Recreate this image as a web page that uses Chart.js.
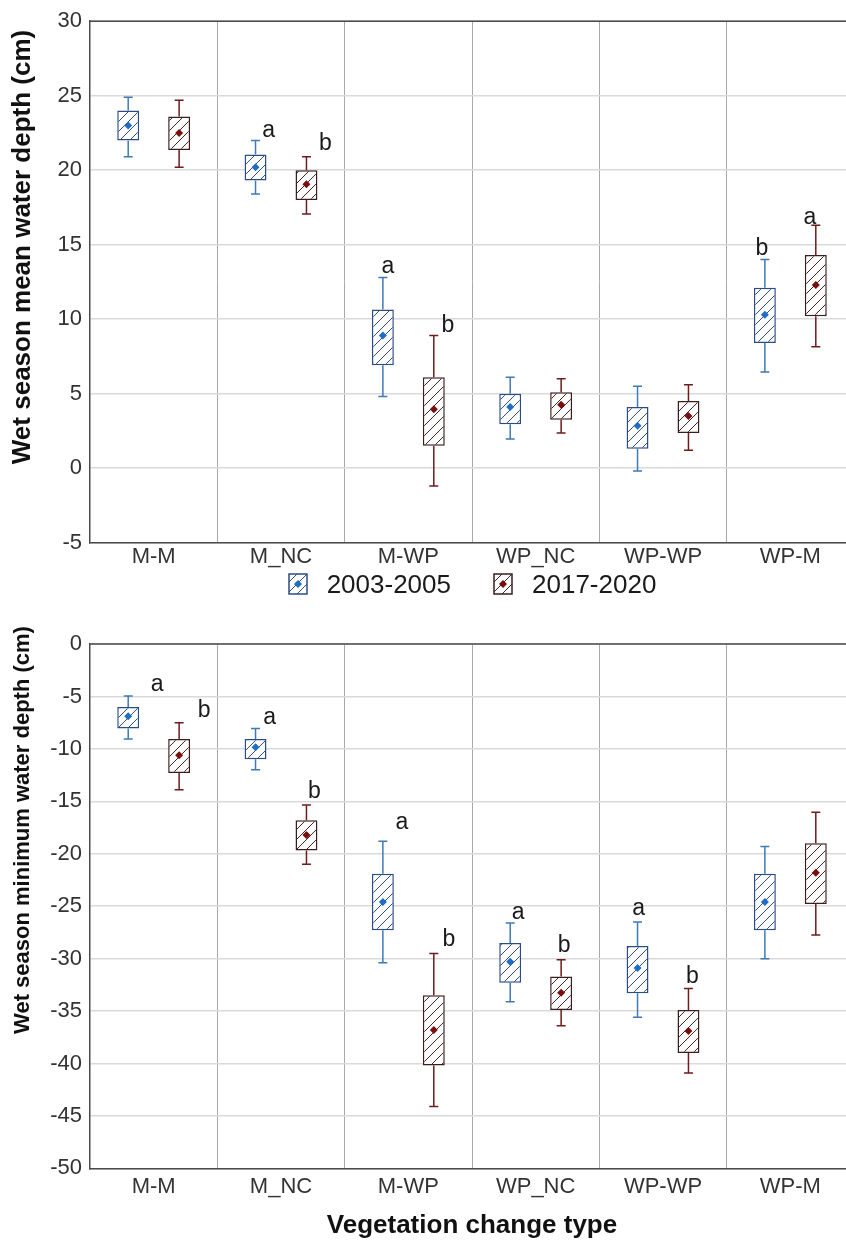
<!DOCTYPE html>
<html>
<head>
<meta charset="utf-8">
<script src="https://cdn.jsdelivr.net/npm/chart.js@4.4.1/dist/chart.umd.min.js"></script>
<style>
  html, body { margin: 0; padding: 0; background: #fff; overflow: hidden; }
  .box { position: relative; width: 860px; }
  #legend {
    position: relative; width: 764px; height: 24px; margin: 1px 0 0 90px;
    display: flex; justify-content: center; align-items: center;
    font-family: 'Liberation Sans', Arial, sans-serif; font-size: 26px; color: #1a1a1a;
  }
  #legend .item { display: flex; align-items: center; margin: 0 21px; }
  #legend canvas { margin-right: 19px; }
</style>
</head>
<body>
<div class="box" style="height:571px"><canvas id="meanChart"></canvas></div>
<div id="legend"></div>
<div class="box" style="height:645px"><canvas id="minChart"></canvas></div>
<script>
const categories = ['M-M', 'M_NC', 'M-WP', 'WP_NC', 'WP-WP', 'WP-M'];
const periods = ['2003-2005', '2017-2020'];

// top panel: wet season mean water depth (cm)
const meanDepth_mean_A  = [23.0, 20.2, 8.9, 4.1, 2.85, 10.3];
const meanDepth_boxLo_A = [22.0, 19.3, 6.9, 2.95, 1.3, 8.4];
const meanDepth_boxHi_A = [24.0, 21.05, 10.65, 5.0, 4.1, 12.1];
const meanDepth_whLo_A  = [20.9, 18.4, 4.8, 1.95, -0.2, 6.45];
const meanDepth_whHi_A  = [24.9, 22.0, 12.8, 6.1, 5.5, 14.0];

const meanDepth_mean_B  = [22.5, 19.05, 3.95, 4.25, 3.5, 12.3];
const meanDepth_boxLo_B = [21.35, 18.0, 1.5, 3.25, 2.35, 10.2];
const meanDepth_boxHi_B = [23.6, 20.0, 6.1, 5.1, 4.5, 14.3];
const meanDepth_whLo_B  = [20.2, 17.05, -1.2, 2.35, 1.2, 8.15];
const meanDepth_whHi_B  = [24.7, 20.9, 8.9, 6.0, 5.6, 16.3];

const meanDepth_letters_A = ['', 'a', 'a', '', '', 'b'];
const meanDepth_letters_B = ['', 'b', 'b', '', '', 'a'];

// bottom panel: wet season minimum water depth (cm)
const minDepth_mean_A  = [-6.9, -9.85, -24.6, -30.3, -30.9, -24.6];
const minDepth_boxLo_A = [-8.05, -11.0, -27.3, -32.3, -33.3, -27.3];
const minDepth_boxHi_A = [-6.0, -9.05, -21.9, -28.5, -28.8, -21.9];
const minDepth_whLo_A  = [-9.05, -12.0, -30.4, -34.1, -35.6, -30.0];
const minDepth_whHi_A  = [-4.95, -8.05, -18.8, -26.6, -26.5, -19.3];

const minDepth_mean_B  = [-10.6, -18.2, -36.8, -33.25, -36.9, -21.8];
const minDepth_boxLo_B = [-12.3, -19.7, -40.2, -34.9, -39.0, -24.8];
const minDepth_boxHi_B = [-9.05, -16.8, -33.5, -31.7, -34.9, -19.0];
const minDepth_whLo_B  = [-13.9, -21.0, -44.1, -36.4, -40.9, -27.75];
const minDepth_whHi_B  = [-7.5, -15.35, -29.5, -30.1, -32.85, -16.05];

const minDepth_letters_A = ['a', 'a', 'a', 'a', 'a', ''];
const minDepth_letters_B = ['b', 'b', 'b', 'b', 'b', ''];

// where the letters sit, relative to the whisker cap (px)
const meanShift_A = [[0, 0], [13, -10], [5, -11], [0, 0], [0, 0], [-3, -11]];
const meanShift_B = [[0, 0], [19, -13], [14, -10], [0, 0], [0, 0], [-6, -8]];
const minShift_A = [[29, -11], [14, -11], [19, -19], [8, -10], [1, -13], [0, 0]];
const minShift_B = [[25, -12], [8, -13], [15, -14], [3, -14], [4, -12], [0, 0]];

const FONT = "'Liberation Sans', Arial, sans-serif";
const looks = [
  { border: '#2c4c86', hatch: '#2f4f7c', whisker: '#3f7ab5', dot: '#1f6dc4' },
  { border: '#3a1e1e', hatch: '#4a2424', whisker: '#6e1c1c', dot: '#7a0e0e' }
];

function hatchTile(color) {
  const s = 10;
  const c = document.createElement('canvas');
  c.width = s; c.height = s;
  const g = c.getContext('2d');
  g.fillStyle = '#fff';
  g.fillRect(0, 0, s, s);
  g.strokeStyle = color;
  g.lineWidth = 1;
  g.beginPath();
  g.moveTo(0, s); g.lineTo(s, 0);
  g.moveTo(-1, 1); g.lineTo(1, -1);
  g.moveTo(s - 1, s + 1); g.lineTo(s + 1, s - 1);
  g.stroke();
  return c;
}

function diamond(ctx, x, y, r, color) {
  ctx.save();
  ctx.fillStyle = color;
  ctx.beginPath();
  ctx.moveTo(x, y - r); ctx.lineTo(x + r, y); ctx.lineTo(x, y + r); ctx.lineTo(x - r, y);
  ctx.closePath();
  ctx.fill();
  ctx.restore();
}

function legendIcon(look) {
  const w = 20, h = 22;
  const c = document.createElement('canvas');
  c.width = w; c.height = h;
  const g = c.getContext('2d');
  g.fillStyle = g.createPattern(hatchTile(look.hatch), 'repeat');
  g.fillRect(1, 1, w - 2, h - 2);
  g.strokeStyle = look.border;
  g.lineWidth = 1.5;
  g.strokeRect(1, 1, w - 2, h - 2);
  diamond(g, w / 2, h / 2, 4, look.dot);
  return c;
}

// legend shared by both panels, sits between them
const legendDiv = document.getElementById('legend');
periods.forEach((name, i) => {
  const item = document.createElement('div');
  item.className = 'item';
  item.appendChild(legendIcon(looks[i]));
  const span = document.createElement('span');
  span.textContent = name;
  item.appendChild(span);
  legendDiv.appendChild(item);
});

const boxExtras = {
  id: 'boxExtras',
  afterDatasetsDraw(chart) {
    const ctx = chart.ctx;
    const y = chart.scales.y;
    chart.data.datasets.forEach((ds, i) => {
      const meta = chart.getDatasetMeta(i);
      const look = looks[i];
      meta.data.forEach((bar, j) => {
        const x = bar.x;
        const yTop = y.getPixelForValue(ds.whHi[j]);
        const yBot = y.getPixelForValue(ds.whLo[j]);
        const yHi = y.getPixelForValue(ds.data[j][1]);
        const yLo = y.getPixelForValue(ds.data[j][0]);
        ctx.save();
        ctx.strokeStyle = look.whisker;
        ctx.lineWidth = 1.5;
        ctx.beginPath();
        ctx.moveTo(x, yHi); ctx.lineTo(x, yTop);
        ctx.moveTo(x - 4.5, yTop); ctx.lineTo(x + 4.5, yTop);
        ctx.moveTo(x, yLo); ctx.lineTo(x, yBot);
        ctx.moveTo(x - 4.5, yBot); ctx.lineTo(x + 4.5, yBot);
        ctx.stroke();
        ctx.restore();
        diamond(ctx, x, y.getPixelForValue(ds.mean[j]), 4, look.dot);
        const letter = ds.letters[j];
        if (letter) {
          const sh = ds.shift[j];
          ctx.save();
          ctx.fillStyle = '#1a1a1a';
          ctx.font = '23px ' + FONT;
          ctx.textAlign = 'center';
          ctx.textBaseline = 'middle';
          ctx.fillText(letter, x + sh[0], yTop + sh[1]);
          ctx.restore();
        }
      });
    });
  },
  afterDraw(chart) {
    const a = chart.chartArea;
    const ctx = chart.ctx;
    ctx.save();
    ctx.strokeStyle = '#4a4a4a';
    ctx.lineWidth = 1.5;
    ctx.beginPath();
    ctx.moveTo(a.left, a.top); ctx.lineTo(a.right, a.top);
    ctx.stroke();
    // y axis title
    const o = chart.options.plugins.sideTitle;
    ctx.translate(o.x, o.y);
    ctx.rotate(-Math.PI / 2);
    ctx.fillStyle = '#111';
    ctx.font = 'bold ' + o.size + 'px ' + FONT;
    ctx.textAlign = 'center';
    ctx.textBaseline = 'middle';
    ctx.fillText(o.text, 0, 0);
    ctx.restore();
  }
};

function makeChart(id, p) {
  const canvas = document.getElementById(id);
  const ctx = canvas.getContext('2d');
  const sets = [0, 1].map(i => ({
    label: periods[i],
    data: p.boxLo[i].map((lo, j) => [lo, p.boxHi[i][j]]),
    mean: p.mean[i],
    whLo: p.whLo[i],
    whHi: p.whHi[i],
    letters: p.letters[i],
    shift: p.shift[i],
    backgroundColor: ctx.createPattern(hatchTile(looks[i].hatch), 'repeat'),
    borderColor: looks[i].border,
    borderWidth: 1.5,
    borderSkipped: false,
    categoryPercentage: 0.8,
    barPercentage: 0.43
  }));

  return new Chart(ctx, {
    type: 'bar',
    data: { labels: categories, datasets: sets },
    plugins: [boxExtras],
    options: {
      responsive: true,
      maintainAspectRatio: false,
      animation: false,
      layout: { padding: p.padding },
      plugins: {
        tooltip: { enabled: false },
        legend: { display: false },
        sideTitle: p.sideTitle
      },
      scales: {
        x: {
          grid: { color: '#a9a9a9', lineWidth: 1, offset: true, drawTicks: false },
          border: { color: '#4a4a4a', width: 1.5 },
          ticks: { color: '#333', padding: p.tickPad, font: { family: FONT, size: 22 } },
          title: {
            display: !!p.xTitle,
            text: p.xTitle || '',
            color: '#111',
            padding: { top: 5, bottom: 0 },
            font: { family: FONT, size: 26, weight: 'bold' }
          }
        },
        y: {
          min: p.min,
          max: p.max,
          ticks: { stepSize: 5, color: '#333', padding: 8, font: { family: FONT, size: 22 } },
          grid: { color: '#dadada', lineWidth: 1.5, drawTicks: false },
          border: { color: '#4a4a4a', width: 1.5 },
          afterFit: s => { s.width = 90; }
        }
      }
    }
  });
}

makeChart('meanChart', {
  mean: [meanDepth_mean_A, meanDepth_mean_B],
  boxLo: [meanDepth_boxLo_A, meanDepth_boxLo_B],
  boxHi: [meanDepth_boxHi_A, meanDepth_boxHi_B],
  whLo: [meanDepth_whLo_A, meanDepth_whLo_B],
  whHi: [meanDepth_whHi_A, meanDepth_whHi_B],
  letters: [meanDepth_letters_A, meanDepth_letters_B],
  shift: [meanShift_A, meanShift_B],
  min: -5, max: 30,
  tickPad: 1,
  padding: { top: 18, right: 6, bottom: 0, left: 0 },
  sideTitle: { text: 'Wet season mean water depth (cm)', x: 23, y: 247, size: 26 }
});

makeChart('minChart', {
  mean: [minDepth_mean_A, minDepth_mean_B],
  boxLo: [minDepth_boxLo_A, minDepth_boxLo_B],
  boxHi: [minDepth_boxHi_A, minDepth_boxHi_B],
  whLo: [minDepth_whLo_A, minDepth_whLo_B],
  whHi: [minDepth_whHi_A, minDepth_whHi_B],
  letters: [minDepth_letters_A, minDepth_letters_B],
  shift: [minShift_A, minShift_B],
  min: -50, max: 0,
  tickPad: 5,
  xTitle: 'Vegetation change type',
  padding: { top: 48, right: 6, bottom: 0, left: 0 },
  sideTitle: { text: 'Wet season minimum water depth (cm)', x: 23, y: 234, size: 22 }
});
</script>
</body>
</html>
